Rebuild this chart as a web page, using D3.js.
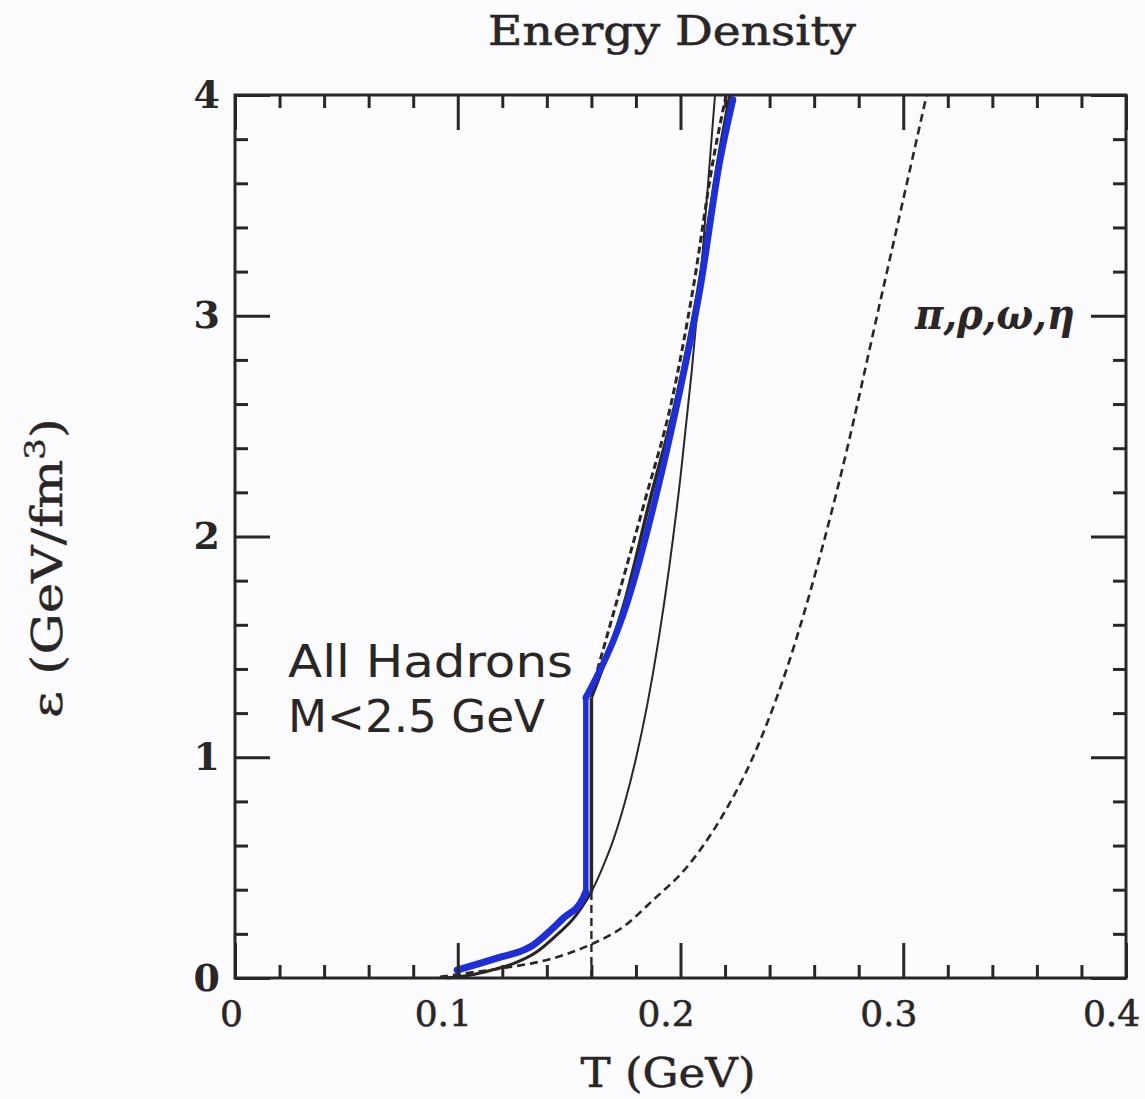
<!DOCTYPE html>
<html>
<head>
<meta charset="utf-8">
<script src="https://cdn.jsdelivr.net/npm/d3@7"></script>
<style>
  html, body { margin: 0; padding: 0; background: #fcfcff; }
  svg { display: block; }
</style>
</head>
<body>
<svg id="chart" width="1145" height="1099"></svg>
<script>
// ---------------- data ----------------
const xMajorTicks = [0, 0.1, 0.2, 0.3, 0.4];
const xTickLabels = ["0", "0.1", "0.2", "0.3", "0.4"];
const yMajorTicks = [0, 1, 2, 3, 4];
const yTickLabels = ["0", "1", "2", "3", "4"];

// pi, rho, omega, eta gas (lower dashed curve)
const pionT = [0.092, 0.1024, 0.1203, 0.1401, 0.1594, 0.1742, 0.1877, 0.2029, 0.2177, 0.2325, 0.2460, 0.2703, 0.2909, 0.3105];
const pionE = [0.005, 0.02, 0.045, 0.082, 0.15, 0.231, 0.353, 0.503, 0.716, 1.0, 1.35, 2.21, 3.12, 4.0];

// all hadrons M<2.5 GeV (thin solid curve)
const hadronT = [0.095, 0.105, 0.115, 0.125, 0.135, 0.145, 0.152, 0.16, 0.165, 0.17, 0.175, 0.18, 0.185, 0.19, 0.195, 0.2, 0.205, 0.21, 0.2155];
const hadronE = [0, 0.012, 0.035, 0.065, 0.115, 0.2, 0.27, 0.39, 0.50, 0.63, 0.795, 0.994, 1.234, 1.523, 1.866, 2.27, 2.745, 3.295, 4.0];

// upper dashed curve (above Tc)
const qgpT = [0.16, 0.1715, 0.1841, 0.1962, 0.2056, 0.2146, 0.2205];
const qgpE = [1.30, 1.71, 2.165, 2.62, 3.12, 3.7, 4.0];

// thick transition curve above Tc
const transT = [0.16, 0.1751, 0.1863, 0.198, 0.2079, 0.2168, 0.2222];
const transE = [1.27, 1.71, 2.165, 2.62, 3.12, 3.7, 4.0];

// critical temperature and the jump
const Tc = 0.16;
const jumpE = [0.39, 1.27];

// blue highlight stroke
const blueLowT = [0.0997, 0.1176, 0.1324, 0.1473, 0.1562, 0.1575];
const blueLowE = [0.036, 0.09, 0.14, 0.27, 0.36, 0.39];
const blueUpT = [0.1575, 0.1764, 0.1886, 0.1989, 0.2088, 0.2177, 0.2236];
const blueUpE = [1.27, 1.71, 2.165, 2.62, 3.12, 3.7, 3.98];

// ---------------- drawing ----------------
const svg = d3.select("#chart");
const x = d3.scaleLinear().domain([0, 0.4]).range([235, 1126]);
const y = d3.scaleLinear().domain([0, 4]).range([978, 95]);
const ink = "#2a2626";

const zip = (a, b) => a.map((v, i) => [v, b[i]]);
const line = d3.line().x(d => x(d[0])).y(d => y(d[1])).curve(d3.curveMonotoneX);
const lineLin = d3.line().x(d => x(d[0])).y(d => y(d[1]));

const plot = svg.append("g");

// lower dashed (pion gas)
plot.append("path").attr("d", line(zip(pionT, pionE)))
  .attr("fill", "none").attr("stroke", ink).attr("stroke-width", 2.6)
  .attr("stroke-dasharray", "8,5");

// vertical dashed at Tc below the jump
plot.append("path").attr("d", lineLin([[Tc, 0], [Tc, jumpE[0]]]))
  .attr("fill", "none").attr("stroke", ink).attr("stroke-width", 2.4)
  .attr("stroke-dasharray", "8,5");

// upper dashed
plot.append("path").attr("d", line(zip(qgpT, qgpE)))
  .attr("fill", "none").attr("stroke", ink).attr("stroke-width", 3)
  .attr("stroke-dasharray", "7,4");

// thin solid: all hadrons
plot.append("path").attr("d", line(zip(hadronT, hadronE)))
  .attr("fill", "none").attr("stroke", ink).attr("stroke-width", 2);

// thick transition curve
const lowPart = zip(hadronT, hadronE).filter(d => d[0] <= Tc);
plot.append("path").attr("d", line(lowPart))
  .attr("fill", "none").attr("stroke", ink).attr("stroke-width", 3);
plot.append("path").attr("d", lineLin([[Tc, jumpE[0]], [Tc, jumpE[1]]]))
  .attr("fill", "none").attr("stroke", ink).attr("stroke-width", 3.5);
plot.append("path").attr("d", line(zip(transT, transE)))
  .attr("fill", "none").attr("stroke", ink).attr("stroke-width", 3.5);

// blue highlight
const blue = "#1f2fd8";
plot.append("path").attr("d", line(zip(blueLowT, blueLowE)))
  .attr("fill", "none").attr("stroke", blue).attr("stroke-width", 7)
  .attr("stroke-linecap", "round").attr("stroke-linejoin", "round");
plot.append("path").attr("d", lineLin([[blueLowT[blueLowT.length - 1], jumpE[0]], [blueUpT[0], jumpE[1]]]))
  .attr("fill", "none").attr("stroke", blue).attr("stroke-width", 5.5)
  .attr("stroke-linecap", "round");
plot.append("path").attr("d", line(zip(blueUpT, blueUpE)))
  .attr("fill", "none").attr("stroke", blue).attr("stroke-width", 6.5)
  .attr("stroke-linecap", "round").attr("stroke-linejoin", "round");

// ---------------- axes (ticks inward on all four sides) ----------------
const xMinor = d3.range(0.02, 0.4, 0.02).filter(v => Math.abs(v * 10 - Math.round(v * 10)) > 1e-6);
const yMinor = d3.range(0.2, 4, 0.2).filter(v => Math.abs(v - Math.round(v)) > 1e-6);
const major = 35, minor = 13;

function styleAxis(g) {
  g.select(".domain").remove();
  g.selectAll(".tick line").attr("stroke", ink).attr("stroke-width", 3);
}

// bottom
const gB = svg.append("g").attr("transform", `translate(0,${y(0)})`)
  .call(d3.axisBottom(x).tickValues(xMajorTicks).tickSize(-major).tickPadding(22)
    .tickFormat((d, i) => xTickLabels[i]));
styleAxis(gB);
gB.selectAll(".tick text").attr("font-family", "DejaVu Serif").attr("font-size", 36)
  .attr("fill", ink).attr("stroke", ink).attr("stroke-width", 0.6)
  .attr("dx", (d, i) => i === 0 ? -4 : -15);
svg.append("g").attr("transform", `translate(0,${y(0)})`)
  .call(d3.axisBottom(x).tickValues(xMinor).tickSize(-minor).tickFormat(""))
  .call(styleAxis);
// top
svg.append("g").attr("transform", `translate(0,${y(4)})`)
  .call(d3.axisTop(x).tickValues(xMajorTicks).tickSize(-major).tickFormat(""))
  .call(styleAxis);
svg.append("g").attr("transform", `translate(0,${y(4)})`)
  .call(d3.axisTop(x).tickValues(xMinor).tickSize(-minor).tickFormat(""))
  .call(styleAxis);
// left
const gL = svg.append("g").attr("transform", `translate(${x(0)},0)`)
  .call(d3.axisLeft(y).tickValues(yMajorTicks).tickSize(-major).tickPadding(15)
    .tickFormat((d, i) => yTickLabels[i]));
styleAxis(gL);
gL.selectAll(".tick text").attr("font-family", "DejaVu Serif").attr("font-size", 38)
  .attr("font-weight", "bold").attr("fill", ink);
svg.append("g").attr("transform", `translate(${x(0)},0)`)
  .call(d3.axisLeft(y).tickValues(yMinor).tickSize(-minor).tickFormat(""))
  .call(styleAxis);
// right
svg.append("g").attr("transform", `translate(${x(0.4)},0)`)
  .call(d3.axisRight(y).tickValues(yMajorTicks).tickSize(-major).tickFormat(""))
  .call(styleAxis);
svg.append("g").attr("transform", `translate(${x(0.4)},0)`)
  .call(d3.axisRight(y).tickValues(yMinor).tickSize(-minor).tickFormat(""))
  .call(styleAxis);

// frame
svg.append("rect").attr("x", x(0)).attr("y", y(4))
  .attr("width", x(0.4) - x(0)).attr("height", y(0) - y(4))
  .attr("fill", "none").attr("stroke", ink).attr("stroke-width", 3);

// ---------------- texts ----------------
svg.append("text").attr("x", 672).attr("y", 45).attr("text-anchor", "middle")
  .attr("font-family", "DejaVu Serif").attr("font-size", 41).attr("fill", ink)
  .attr("stroke", ink).attr("stroke-width", 0.6)
  .attr("textLength", 368).attr("lengthAdjust", "spacingAndGlyphs")
  .text("Energy Density");

svg.append("text").attr("x", 668).attr("y", 1087).attr("text-anchor", "middle")
  .attr("font-family", "DejaVu Serif").attr("font-size", 41).attr("fill", ink)
  .attr("stroke", ink).attr("stroke-width", 0.5)
  .attr("textLength", 175).attr("lengthAdjust", "spacingAndGlyphs")
  .text("T (GeV)");

const yt = svg.append("text").attr("transform", "translate(62,568) rotate(-90)")
  .attr("text-anchor", "middle").attr("font-family", "DejaVu Serif")
  .attr("font-size", 43).attr("fill", ink).attr("stroke", ink).attr("stroke-width", 0.4)
  .attr("textLength", 300).attr("lengthAdjust", "spacingAndGlyphs");
yt.append("tspan").text("ε (GeV/fm");
yt.append("tspan").attr("font-size", 28).attr("dy", -17).text("3");
yt.append("tspan").attr("dy", 17).text(")");

svg.append("text").attr("x", 288).attr("y", 677)
  .attr("font-family", "DejaVu Sans").attr("font-size", 45).attr("fill", ink)
  .attr("textLength", 285).attr("lengthAdjust", "spacingAndGlyphs")
  .text("All Hadrons");
svg.append("text").attr("x", 288).attr("y", 732)
  .attr("font-family", "DejaVu Sans").attr("font-size", 45).attr("fill", ink)
  .attr("textLength", 257).attr("lengthAdjust", "spacingAndGlyphs")
  .text("M<2.5 GeV");

svg.append("text").attr("x", 915).attr("y", 329)
  .attr("font-family", "DejaVu Serif").attr("font-style", "italic").attr("font-weight", "bold")
  .attr("font-size", 42).attr("fill", ink)
  .attr("textLength", 160).attr("lengthAdjust", "spacingAndGlyphs")
  .text("π,ρ,ω,η");
</script>
</body>
</html>
